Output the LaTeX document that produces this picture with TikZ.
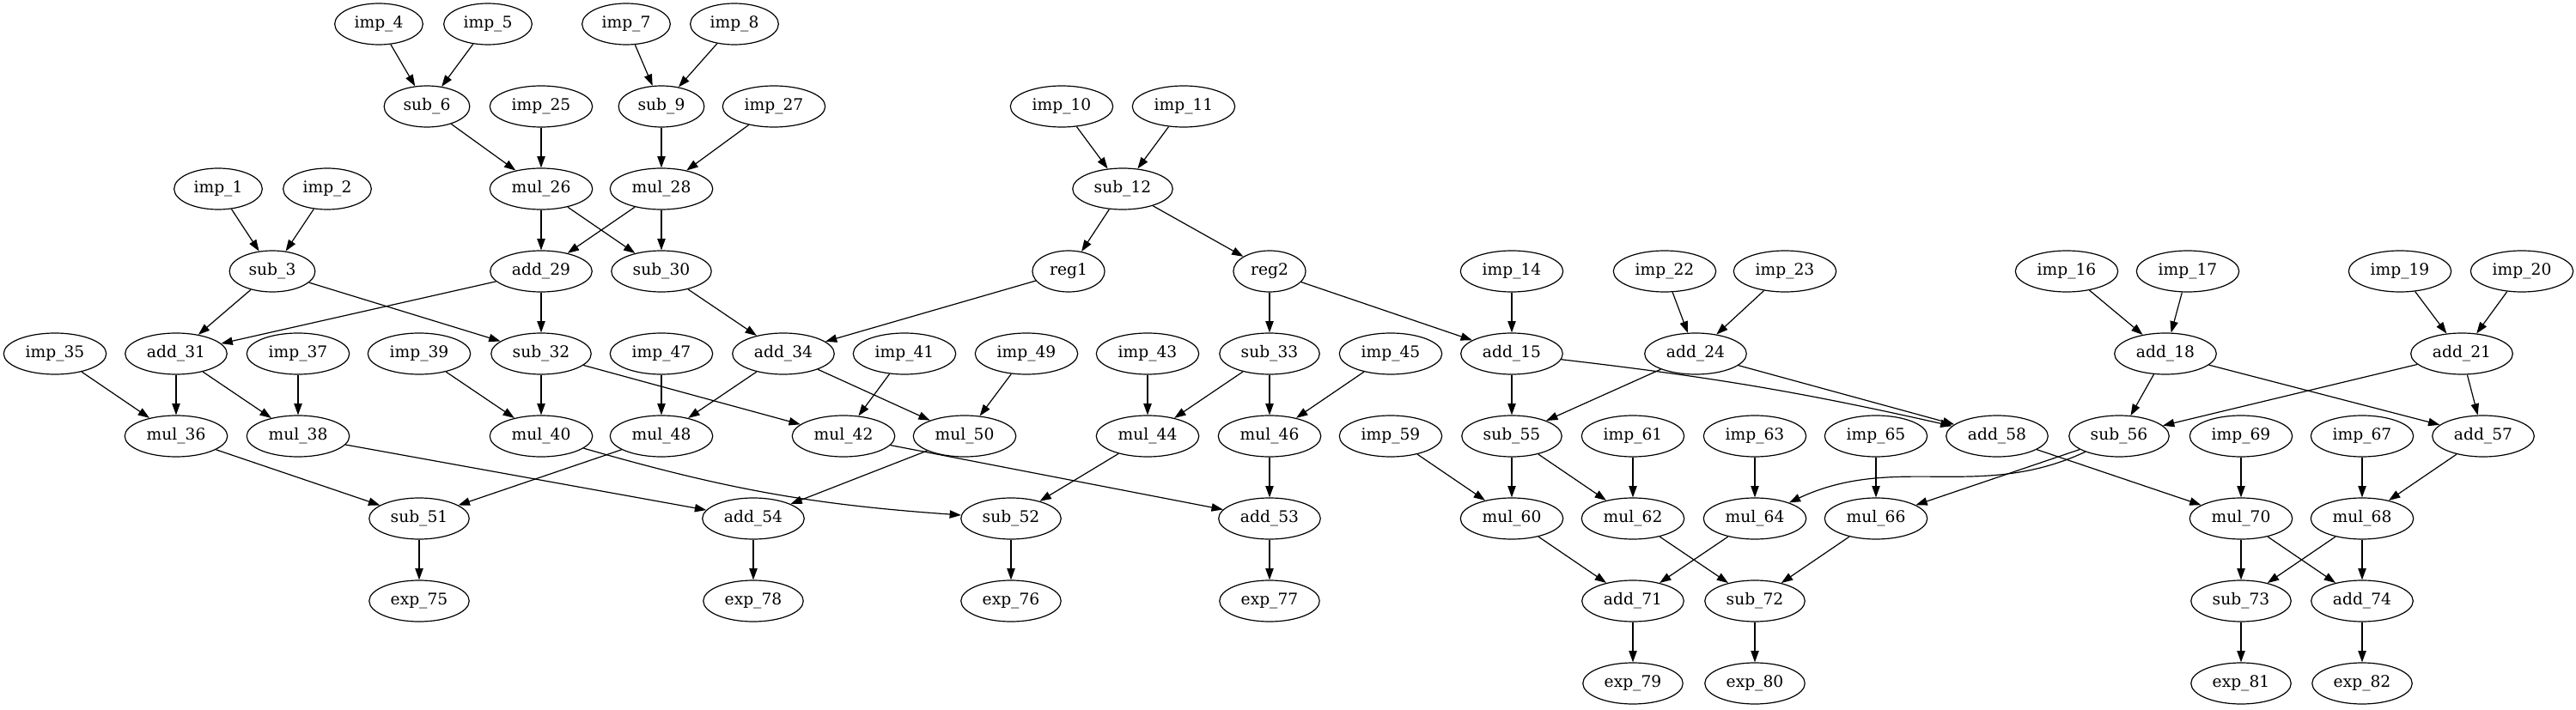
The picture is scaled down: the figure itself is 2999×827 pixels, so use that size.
\documentclass[tikz,border=0pt]{standalone}
\usepackage{fontspec}
\setmainfont{DejaVu Serif}
\usetikzlibrary{shapes.geometric, arrows.meta}
\tikzset{>={Triangle[length=10pt,width=7pt]},
  op/.style={ellipse, draw, line width=0.9pt, inner xsep=5.9pt, inner ysep=2pt,
    minimum height=36pt, font=\fontsize{14pt}{16pt}\selectfont},
  every path/.style={line width=0.9pt}}

\begin{document}
\begin{tikzpicture}[x=0.75pt, y=-0.75pt]
\useasboundingbox (0,0) rectangle (2999,827);
% rank 0
\node[op] (imp_4) at (441,28) {imp\_4};
\node[op] (imp_5) at (568,28) {imp\_5};
\node[op] (imp_7) at (729,28) {imp\_7};
\node[op] (imp_8) at (855,28) {imp\_8};
% rank 1
\node[op] (sub_6) at (497,124) {sub\_6};
\node[op] (imp_25) at (630,124) {imp\_25};
\node[op] (sub_9) at (770,124) {sub\_9};
\node[op] (imp_27) at (901,124) {imp\_27};
\node[op] (imp_10) at (1236,124) {imp\_10};
\node[op] (imp_11) at (1378,124) {imp\_11};
% rank 2
\node[op] (imp_1) at (254,220) {imp\_1};
\node[op] (imp_2) at (381,220) {imp\_2};
\node[op] (mul_26) at (630,220) {mul\_26};
\node[op] (mul_28) at (770,220) {mul\_28};
\node[op] (sub_12) at (1307,220) {sub\_12};
% rank 3
\node[op] (sub_3) at (317,316) {sub\_3};
\node[op] (add_29) at (630,316) {add\_29};
\node[op] (sub_30) at (770,316) {sub\_30};
\node[op] (reg1) at (1244,316) {reg1};
\node[op] (reg2) at (1478,316) {reg2};
\node[op] (imp_14) at (1760,316) {imp\_14};
\node[op] (imp_22) at (1938,316) {imp\_22};
\node[op] (imp_23) at (2078,316) {imp\_23};
\node[op] (imp_16) at (2406,316) {imp\_16};
\node[op] (imp_17) at (2547,316) {imp\_17};
\node[op] (imp_19) at (2794,316) {imp\_19};
\node[op] (imp_20) at (2936,316) {imp\_20};
% rank 4
\node[op] (imp_35) at (64,412) {imp\_35};
\node[op] (add_31) at (205,412) {add\_31};
\node[op] (imp_37) at (347,412) {imp\_37};
\node[op] (imp_39) at (488,412) {imp\_39};
\node[op] (sub_32) at (630,412) {sub\_32};
\node[op] (imp_47) at (770,412) {imp\_47};
\node[op] (add_34) at (912,412) {add\_34};
\node[op] (imp_41) at (1053,412) {imp\_41};
\node[op] (imp_49) at (1195,412) {imp\_49};
\node[op] (imp_43) at (1336,412) {imp\_43};
\node[op] (sub_33) at (1478,412) {sub\_33};
\node[op] (imp_45) at (1619,412) {imp\_45};
\node[op] (add_15) at (1760,412) {add\_15};
\node[op] (add_24) at (1974,412) {add\_24};
\node[op] (add_18) at (2521,412) {add\_18};
\node[op] (add_21) at (2866,412) {add\_21};
% rank 5
\node[op] (mul_36) at (205,508) {mul\_36};
\node[op] (mul_38) at (347,508) {mul\_38};
\node[op] (mul_40) at (630,508) {mul\_40};
\node[op] (mul_48) at (770,508) {mul\_48};
\node[op] (mul_42) at (982,508) {mul\_42};
\node[op] (mul_50) at (1123,508) {mul\_50};
\node[op] (mul_44) at (1336,508) {mul\_44};
\node[op] (mul_46) at (1478,508) {mul\_46};
\node[op] (imp_59) at (1619,508) {imp\_59};
\node[op] (sub_55) at (1760,508) {sub\_55};
\node[op] (imp_61) at (1901,508) {imp\_61};
\node[op] (imp_63) at (2043,508) {imp\_63};
\node[op] (imp_65) at (2184,508) {imp\_65};
\node[op] (add_58) at (2325,508) {add\_58};
\node[op] (sub_56) at (2467,508) {sub\_56};
\node[op] (imp_69) at (2609,508) {imp\_69};
\node[op] (imp_67) at (2750,508) {imp\_67};
\node[op] (add_57) at (2891,508) {add\_57};
% rank 6
\node[op] (sub_51) at (488,604) {sub\_51};
\node[op] (add_54) at (877,604) {add\_54};
\node[op] (sub_52) at (1177,604) {sub\_52};
\node[op] (add_53) at (1478,604) {add\_53};
\node[op] (mul_60) at (1760,604) {mul\_60};
\node[op] (mul_62) at (1901,604) {mul\_62};
\node[op] (mul_64) at (2043,604) {mul\_64};
\node[op] (mul_66) at (2184,604) {mul\_66};
\node[op] (mul_70) at (2609,604) {mul\_70};
\node[op] (mul_68) at (2750,604) {mul\_68};
% rank 7
\node[op] (exp_75) at (488,700) {exp\_75};
\node[op] (exp_78) at (877,700) {exp\_78};
\node[op] (exp_76) at (1177,700) {exp\_76};
\node[op] (exp_77) at (1478,700) {exp\_77};
\node[op] (add_71) at (1901,700) {add\_71};
\node[op] (sub_72) at (2043,700) {sub\_72};
\node[op] (sub_73) at (2609,700) {sub\_73};
\node[op] (add_74) at (2750,700) {add\_74};
% rank 8
\node[op] (exp_79) at (1901,796) {exp\_79};
\node[op] (exp_80) at (2043,796) {exp\_80};
\node[op] (exp_81) at (2609,796) {exp\_81};
\node[op] (exp_82) at (2750,796) {exp\_82};

% edges
\draw[->] (imp_4) -- (sub_6); \draw[->] (imp_5) -- (sub_6);
\draw[->] (imp_7) -- (sub_9); \draw[->] (imp_8) -- (sub_9);
\draw[->] (sub_6) -- (mul_26); \draw[->] (imp_25) -- (mul_26);
\draw[->] (sub_9) -- (mul_28); \draw[->] (imp_27) -- (mul_28);
\draw[->] (imp_1) -- (sub_3); \draw[->] (imp_2) -- (sub_3);
\draw[->] (mul_26) -- (add_29); \draw[->] (mul_26) -- (sub_30);
\draw[->] (mul_28) -- (add_29); \draw[->] (mul_28) -- (sub_30);
\draw[->] (sub_3) -- (add_31); \draw[->] (sub_3) -- (sub_32);
\draw[->] (add_29) -- (add_31); \draw[->] (add_29) -- (sub_32);
\draw[->] (sub_30) -- (add_34); \draw[->] (reg1) -- (add_34);
\draw[->] (imp_10) -- (sub_12); \draw[->] (imp_11) -- (sub_12);
\draw[->] (sub_12) -- (reg1); \draw[->] (sub_12) -- (reg2);
\draw[->] (reg2) -- (sub_33); \draw[->] (reg2) -- (add_15);
\draw[->] (imp_14) -- (add_15);
\draw[->] (imp_22) -- (add_24); \draw[->] (imp_23) -- (add_24);
\draw[->] (imp_16) -- (add_18); \draw[->] (imp_17) -- (add_18);
\draw[->] (imp_19) -- (add_21); \draw[->] (imp_20) -- (add_21);
\draw[->] (imp_35) -- (mul_36); \draw[->] (add_31) -- (mul_36);
\draw[->] (add_31) -- (mul_38); \draw[->] (imp_37) -- (mul_38);
\draw[->] (imp_39) -- (mul_40); \draw[->] (sub_32) -- (mul_40);
\draw[->] (sub_32) -- (mul_42); \draw[->] (imp_41) -- (mul_42);
\draw[->] (imp_47) -- (mul_48); \draw[->] (add_34) -- (mul_48);
\draw[->] (add_34) -- (mul_50); \draw[->] (imp_49) -- (mul_50);
\draw[->] (imp_43) -- (mul_44); \draw[->] (sub_33) -- (mul_44);
\draw[->] (sub_33) -- (mul_46); \draw[->] (imp_45) -- (mul_46);
\draw[->] (add_15) -- (sub_55); \draw[->] (add_15) to[bend left=3] (add_58);
\draw[->] (add_24) -- (sub_55); \draw[->] (add_24) -- (add_58);
\draw[->] (add_18) -- (sub_56); \draw[->] (add_18) -- (add_57);
\draw[->] (add_21) -- (sub_56); \draw[->] (add_21) -- (add_57);
\draw[->] (mul_36) -- (sub_51); \draw[->] (mul_48) -- (sub_51);
\draw[->] (mul_38) -- (add_54); \draw[->] (mul_50) -- (add_54);
\draw[->] (mul_40) to[bend right=6] (sub_52); \draw[->] (mul_44) -- (sub_52);
\draw[->] (mul_42) -- (add_53); \draw[->] (mul_46) -- (add_53);
\draw[->] (imp_59) -- (mul_60); \draw[->] (sub_55) -- (mul_60);
\draw[->] (sub_55) -- (mul_62); \draw[->] (imp_61) -- (mul_62);
\draw[->] (imp_63) -- (mul_64); \draw[->] (sub_56) to[out=205,in=25] (mul_64);
\draw[->] (imp_65) -- (mul_66); \draw[->] (sub_56) -- (mul_66);
\draw[->] (add_58) -- (mul_70); \draw[->] (imp_69) -- (mul_70);
\draw[->] (imp_67) -- (mul_68); \draw[->] (add_57) -- (mul_68);
\draw[->] (sub_51) -- (exp_75); \draw[->] (add_54) -- (exp_78);
\draw[->] (sub_52) -- (exp_76); \draw[->] (add_53) -- (exp_77);
\draw[->] (mul_60) -- (add_71); \draw[->] (mul_64) -- (add_71);
\draw[->] (mul_62) -- (sub_72); \draw[->] (mul_66) -- (sub_72);
\draw[->] (mul_70) -- (sub_73); \draw[->] (mul_70) -- (add_74);
\draw[->] (mul_68) -- (sub_73); \draw[->] (mul_68) -- (add_74);
\draw[->] (add_71) -- (exp_79); \draw[->] (sub_72) -- (exp_80);
\draw[->] (sub_73) -- (exp_81); \draw[->] (add_74) -- (exp_82);
\end{tikzpicture}
\end{document}
